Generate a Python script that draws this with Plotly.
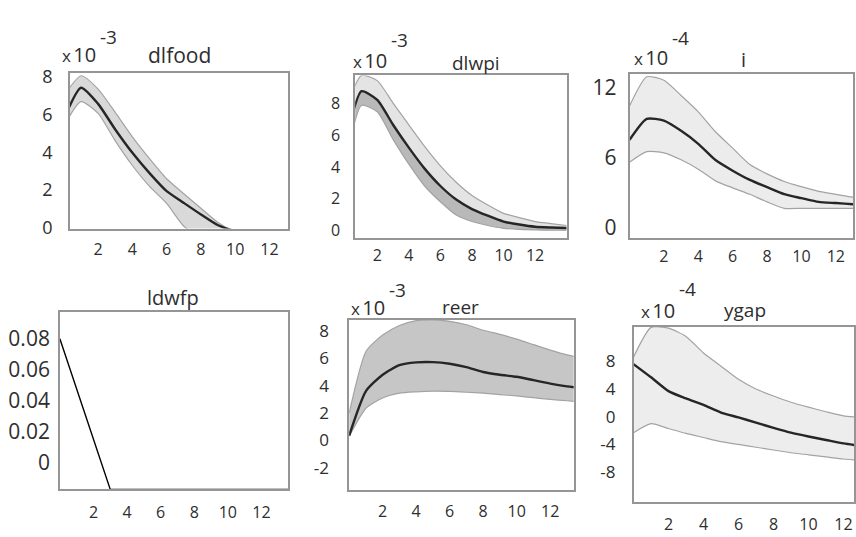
import plotly.graph_objects as go

W, H = 856, 537

# Horizon (periods after the shock)
periods = list(range(15))

# Impulse responses: median and error bands
dlfood_mid = [5.75, 7.40, 6.55, 5.20, 3.97, 2.90, 1.95, 1.33, 0.72, 0.15, -0.15, -0.30, -0.40, -0.45, -0.50]
dlfood_hi = [6.98, 8.03, 7.33, 6.10, 4.81, 3.66, 2.60, 1.81, 1.05, 0.30, -0.20, -0.40, -0.50, -0.55, -0.60]
dlfood_lo = [5.38, 6.67, 6.05, 4.60, 3.30, 2.20, 1.30, 0.10, -0.50, -0.70, -0.80, -0.90, -1.00, -1.05, -1.10]

dlwpi_mid = [5.60, 8.80, 8.25, 6.68, 5.23, 3.90, 2.80, 1.94, 1.34, 0.92, 0.55, 0.36, 0.22, 0.17, 0.14]
dlwpi_hi = [7.70, 9.80, 9.47, 8.05, 6.67, 5.31, 4.08, 3.04, 2.20, 1.60, 1.07, 0.80, 0.55, 0.42, 0.30]
dlwpi_lo = [4.18, 7.90, 7.50, 5.75, 4.18, 2.80, 1.80, 0.96, 0.55, 0.30, 0.12, 0.05, 0.02, 0.00, 0.00]

i_mid = [7.50, 9.30, 9.15, 8.28, 7.17, 5.78, 4.87, 4.08, 3.46, 2.86, 2.52, 2.20, 2.10, 2.00, 1.95]
i_hi = [10.4, 12.9, 12.6, 11.3, 9.9, 8.2, 6.8, 5.4, 4.6, 3.95, 3.5, 3.1, 2.85, 2.6, 2.45]
i_lo = [5.6, 6.5, 6.4, 5.8, 5.0, 4.0, 3.4, 2.85, 2.2, 1.65, 1.65, 1.65, 1.65, 1.65, 1.65]

ldwfp_mid = [0.08, 0.0477, 0.0153, -0.017, -0.017, -0.017, -0.017, -0.017, -0.017, -0.017,
             -0.017, -0.017, -0.017, -0.017, -0.017]

reer_mid = [0.35, 3.6, 4.8, 5.5, 5.7, 5.72, 5.6, 5.35, 5.0, 4.8, 4.65, 4.4, 4.15, 3.95, 3.8]
reer_hi = [2.0, 6.5, 7.7, 8.4, 8.75, 8.8, 8.7, 8.45, 8.05, 7.75, 7.4, 7.0, 6.6, 6.25, 6.0]
reer_lo = [0.3, 2.35, 3.1, 3.45, 3.55, 3.6, 3.58, 3.52, 3.45, 3.35, 3.25, 3.12, 3.0, 2.9, 2.8]

ygap_mid = [7.6, 5.7, 3.7, 2.65, 1.7, 0.6, -0.1, -0.85, -1.6, -2.3, -2.85, -3.35, -3.85, -4.2, -4.5]
ygap_hi = [8.6, 12.9, 12.8, 11.6, 9.2, 7.3, 5.4, 4.0, 3.0, 2.1, 1.38, 0.72, 0.13, -0.1, -0.3]
ygap_lo = [-2.3, -1.0, -1.7, -2.4, -3.0, -3.6, -4.0, -4.4, -4.8, -5.2, -5.5, -5.8, -6.1, -6.3, -6.5]

x_ticks = [2, 4, 6, 8, 10, 12]

FONT = "Open Sans"
INK = "#2e2e2e"
FRAME = "#959595"


def plain(vals):
    # hyphen-minus tick text, as printed by the original software
    return [("%g" % v).replace("\u2212", "-") for v in vals]


# exp = (exponent, right edge of "x10", its centre y, centre y of the exponent)
panels = [
    dict(title="dlfood", mid=dlfood_mid, hi=dlfood_hi, lo=dlfood_lo,
         box=(70, 289, 66, 228), xr=[0.35, 13.1], yr=[-0.02, 8.2],
         yt=[0, 2, 4, 6, 8], ysz=18, xsz=16, ysoff=12, xsoff=6,
         fill="#d9d9d9", fill2=None, shape="spline",
         ttl=(180, 48, 21), exp=("-3", 97, 47, 29)),
    dict(title="dlwpi", mid=dlwpi_mid, hi=dlwpi_hi, lo=dlwpi_lo,
         box=(356, 568, 69, 238), xr=[0.6, 14.0], yr=[-0.5, 9.8],
         yt=[0, 2, 4, 6, 8], ysz=16, xsz=16, ysoff=10, xsoff=2,
         fill="#e4e4e4", fill2="#b9b9b9", shape="spline",
         ttl=(477, 56, 19), exp=("-3", 389, 53, 32)),
    dict(title="i", mid=i_mid, hi=i_hi, lo=i_lo,
         box=(631, 855, 68, 238), xr=[0, 13], yr=[-0.9, 13.1],
         yt=[0, 6, 12], ysz=21, xsz=16, ysoff=7, xsoff=3,
         fill="#ececec", fill2=None, shape="spline",
         ttl=(745, 52, 20), exp=("-4", 671, 50, 30)),
    dict(title="ldwfp", mid=ldwfp_mid, hi=None, lo=None,
         box=(60, 289, 315, 499), xr=[0, 13.6], yr=[-0.017, 0.097],
         yt=[0, 0.02, 0.04, 0.06, 0.08], ysz=21, xsz=16, ysoff=4, xsoff=8,
         fill=None, fill2=None, shape="linear",
         ttl=(173, 300, 20), exp=None),
    dict(title="reer", mid=reer_mid, hi=reer_hi, lo=reer_lo,
         box=(350, 575, 323, 500), xr=[0, 13.4], yr=[-3.65, 8.8],
         yt=[-2, 0, 2, 4, 6, 8], ysz=17, xsz=16, ysoff=15, xsoff=6,
         fill="#c6c6c6", fill2=None, shape="spline",
         ttl=(462, 310, 19), exp=("-3", 387, 310, 292)),
    dict(title="ygap", mid=ygap_mid, hi=ygap_hi, lo=ygap_lo,
         box=(635, 856, 330, 512), xr=[0, 12.6], yr=[-12.3, 13.0],
         yt=[-8, -4, 0, 4, 8], ysz=17, xsz=16, ysoff=13, xsoff=7,
         fill="#ededed", fill2=None, shape="spline",
         ttl=(747, 313, 19), exp=("-4", 678, 313, 291)),
]

fig = go.Figure()
annotations = []
layout_axes = {}

for k, p in enumerate(panels, start=1):
    xa, ya = f"x{k}", f"y{k}"
    sh = p["shape"]
    if p["hi"] is not None:
        fig.add_trace(go.Scatter(x=periods, y=p["lo"], xaxis=xa, yaxis=ya, mode="lines",
                                 line=dict(color="#a3a3a3", width=1.2, shape=sh, smoothing=0.6),
                                 hoverinfo="skip", showlegend=False))
        if p["fill2"]:
            fig.add_trace(go.Scatter(x=periods, y=p["mid"], xaxis=xa, yaxis=ya, mode="lines",
                                     line=dict(width=0, shape=sh, smoothing=0.6), fill="tonexty",
                                     fillcolor=p["fill2"], hoverinfo="skip", showlegend=False))
        fig.add_trace(go.Scatter(x=periods, y=p["hi"], xaxis=xa, yaxis=ya, mode="lines",
                                 line=dict(color="#a3a3a3", width=1.2, shape=sh, smoothing=0.6),
                                 fill="tonexty", fillcolor=p["fill"],
                                 hoverinfo="skip", showlegend=False))
    fig.add_trace(go.Scatter(x=periods, y=p["mid"], xaxis=xa, yaxis=ya, mode="lines",
                             line=dict(color="#262626" if p["hi"] is not None else "#000000",
                                       width=2.4 if p["hi"] is not None else 1.4,
                                       shape=sh, smoothing=0.6),
                             showlegend=False, name=p["title"]))

    x0, x1, y0, y1 = p["box"]
    sfx = "" if k == 1 else str(k)
    layout_axes["xaxis" + sfx] = dict(
        domain=[x0 / W, min(x1 / W, 1.0)], anchor=ya, range=p["xr"],
        tickvals=x_ticks, ticks="", showgrid=False, zeroline=False,
        showline=True, mirror=True, linecolor=FRAME, linewidth=1.5,
        tickfont=dict(family=FONT, size=p["xsz"], color=INK), ticklabelstandoff=p["xsoff"])
    layout_axes["yaxis" + sfx] = dict(
        domain=[1 - y1 / H, 1 - y0 / H], anchor=xa, range=p["yr"],
        tickvals=p["yt"], ticktext=plain(p["yt"]), ticks="", showgrid=False, zeroline=False,
        showline=True, mirror=True, linecolor=FRAME, linewidth=1.5,
        tickfont=dict(family=FONT, size=p["ysz"], color=INK), ticklabelstandoff=p["ysoff"])

    tx, ty, ts = p["ttl"]
    annotations.append(dict(text=p["title"], x=tx / W, y=1 - ty / H, xref="paper", yref="paper",
                            showarrow=False, xanchor="center", yanchor="middle",
                            font=dict(family=FONT, size=ts, color=INK)))
    if p["exp"]:
        e, ex, ey, sy = p["exp"]
        annotations.append(dict(text="<span style='font-size:17px'>x</span>"
                                     "<span style='font-size:9px'>&nbsp;</span>10",
                                x=ex / W, y=1 - ey / H,
                                xref="paper", yref="paper", showarrow=False,
                                xanchor="right", yanchor="middle", borderpad=0,
                                font=dict(family=FONT, size=20, color=INK)))
        annotations.append(dict(text=e, x=(ex + 2) / W, y=1 - sy / H, xref="paper", yref="paper",
                                showarrow=False, xanchor="left", yanchor="middle", borderpad=0,
                                font=dict(family=FONT, size=19, color=INK)))

fig.update_layout(
    width=W, height=H, margin=dict(l=0, r=0, t=0, b=0),
    paper_bgcolor="white", plot_bgcolor="white",
    showlegend=False, annotations=annotations, **layout_axes)

fig.write_html("out.html")
